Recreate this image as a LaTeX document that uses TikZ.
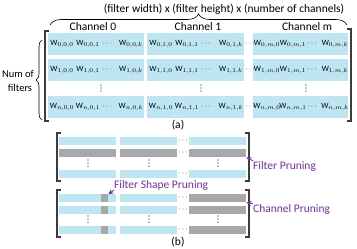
\documentclass[tikz,border=0pt]{standalone}
\usepackage{fontspec}
\setmainfont{Carlito}
\usetikzlibrary{decorations.pathreplacing,arrows.meta}

\definecolor{cellblue}{RGB}{189,229,242}
\definecolor{cellgray}{RGB}{168,168,170}
\definecolor{prunepurple}{RGB}{112,48,160}
\definecolor{brackgray}{RGB}{60,60,60}

\tikzset{
  cell/.style={fill=cellblue, anchor=north west, inner sep=0pt, minimum height=22pt},
  bar/.style={fill=cellblue, anchor=north west, inner sep=0pt, minimum height=8pt, minimum width=57pt},
  cutbar/.style={bar, fill=cellgray},
  witem/.style={font=\fontsize{8}{9}\selectfont, inner sep=0pt},
  brack/.style={draw=brackgray, line width=1.2pt},
  prunearrow/.style={draw=prunepurple, -{Stealth[length=5pt,width=5pt]}, line width=0.9pt},
  prunetext/.style={text=prunepurple, font=\fontsize{11.5}{13}\selectfont, inner sep=0pt, anchor=west},
  label/.style={font=\fontsize{11.5}{13}\selectfont, inner sep=0pt},
  sidelabel/.style={font=\fontsize{10.5}{12}\selectfont, inner sep=0pt}
}
% three small dots standing one above the other
\newcommand{\vdotsat}[2]{%
  \foreach \d in {-3,0,3} {\fill (#1,#2+\d) circle (0.6pt);}}

\begin{document}
\begin{tikzpicture}[x=1pt, y=-1pt]
  \useasboundingbox (0,0) rectangle (357,249);

  % (a) weight tensor
  \node[label] (title) at (224,9) {(filter width) x (filter height) x (number of channels)};
  \draw[line width=0.6pt, decorate, decoration={brace, amplitude=11pt}] (50,25) -- (347,25);

  \node[label] (ch0) at (93,27) {Channel 0};
  \node[label] (ch1) at (198,27) {Channel 1};
  \node[label] (chm) at (307,27) {Channel m};

  \foreach \j/\cx/\cw in {0/48/96, 1/147/97, m/253/95} {
    \foreach \i/\ry in {0/33, 1/59, n/96} {
      \node[cell, minimum width=\cw pt] (c\i\j) at (\cx,\ry) {};
      \node[witem] at (\cx+14,\ry+11) {$\mathrm{W}_{\i,\j,0}$};
      \node[witem] at (\cx+40,\ry+11) {$\mathrm{W}_{\i,\j,1}$};
      \node[witem] at (\cx+59,\ry+11) {$\cdots$};
      \node[witem] at (\cx+\cw-13,\ry+11) {$\mathrm{W}_{\i,\j,k}$};
    }
  }
  \foreach \ry in {44,70,107}
    \node[witem] at (250,\ry) {$\cdots$};
  \foreach \cx in {101,201,306} {\vdotsat{\cx}{88}}

  % brackets and row brace
  \draw[brack] (49,31) -- (45,31) -- (45,121) -- (49,121);
  \draw[brack] (347,29) -- (351,29) -- (351,121) -- (347,121);
  \draw[line width=0.6pt, decorate, decoration={brace, amplitude=6pt}] (42,120) -- (42,40);
  \node[sidelabel] (numf) at (18,74) {Num of};
  \node[sidelabel] (filt) at (20,88) {filters};
  \node[label] (capa) at (178,125) {(a)};

  % (b) filter pruning
  \foreach \cx [count=\k] in {59,120,189} {
    \node[bar] (fa\k) at (\cx,137) {};
    \node[cutbar] (fb\k) at (\cx,149) {};
    \node[bar] (fc\k) at (\cx,170) {};
  }
  \foreach \ry in {141,153,174}
    \node[witem] at (183,\ry) {$\cdots$};
  \foreach \cx in {88,149,218} {\vdotsat{\cx}{163}}
  \draw[brack] (61,133) -- (57,133) -- (57,181) -- (61,181);
  \draw[brack] (245,133) -- (249,133) -- (249,181) -- (245,181);

  % (b) filter shape and channel pruning
  \foreach \ry [count=\k] in {194,206,226} {
    \node[bar] (ga\k) at (59,\ry) {};
    \node[cutbar, minimum width=7pt] (gs\k) at (101,\ry) {};
    \node[bar] (gb\k) at (120,\ry) {};
    \node[cutbar] (gc\k) at (189,\ry) {};
    \node[witem] at (183,\ry+4) {$\cdots$};
  }
  \foreach \cx in {88,149,218} {\vdotsat{\cx}{219}}
  \draw[brack] (61,190) -- (57,190) -- (57,237) -- (61,237);
  \draw[brack] (245,190) -- (249,190) -- (249,237) -- (245,237);
  \node[label] (capb) at (178,242) {(b)};

  % pruning labels
  \node[prunetext] (fp) at (253,166) {Filter Pruning};
  \node[prunetext] (fsp) at (114,185) {Filter Shape Pruning};
  \node[prunetext] (cp) at (253,209) {Channel Pruning};
  \draw[prunearrow] (fp.north west) -- (fb3.south east);
  \draw[prunearrow] (fsp.south west) -- (gs1.north east);
  \draw[prunearrow] (cp.north west) -- (gc1.south east);
\end{tikzpicture}
\end{document}
